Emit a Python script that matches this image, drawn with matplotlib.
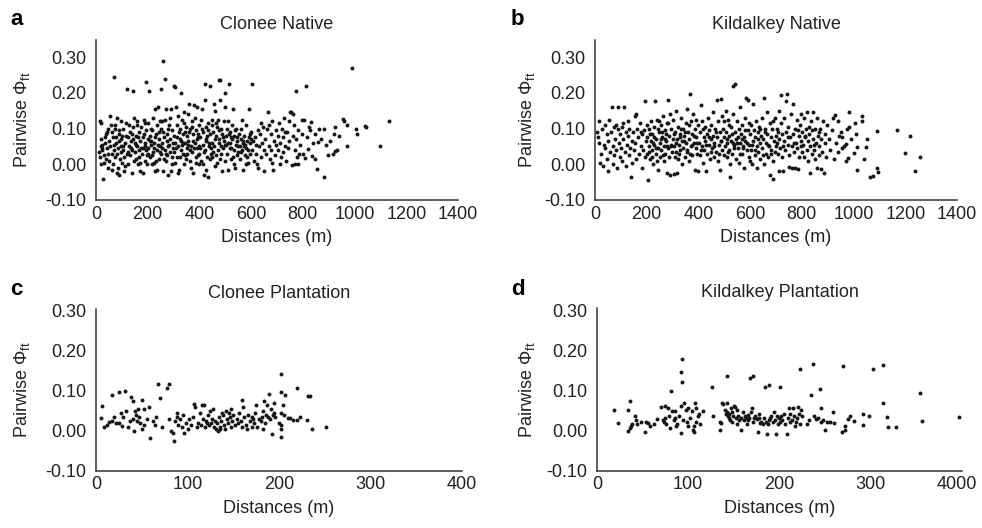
import numpy as np
import matplotlib
matplotlib.use("Agg")
import matplotlib.pyplot as plt
from matplotlib.transforms import ScaledTranslation

plt.rcParams['font.family'] = ['Liberation Sans', 'DejaVu Sans']
plt.rcParams['mathtext.fontset'] = 'custom'
plt.rcParams['mathtext.rm'] = 'Liberation Sans'
plt.rcParams['mathtext.it'] = 'Liberation Sans:italic'
plt.rcParams['axes.unicode_minus'] = False

# pairwise distances (m) and Phi_ft values
clonee_native = [
    (15,0.12),(18,0.115),(20,0.05),(22,0.045),(25,0.04),(15,0.02),(28,-0.04),(20,0.07),(30,0.005),(35,0.06),
    (40,0.085),(45,0.03),(48,0.1),(12,0.035),(25,0.055),(33,0.075),(38,0.015),(42,0.045),(47,-0.01),(50,0.065),
    (30,0.025),(44,0.09),(20,0.0),(55,0.135),(50,0.01),
    (55,0.05),(58,0.11),(60,0.03),(62,-0.015),(65,0.075),(68,0.04),(70,0.245),(72,0.1),(75,0.02),(78,0.06),
    (80,-0.025),(82,0.13),(85,0.045),(88,0.085),(90,-0.03),(92,0.015),(95,0.07),(98,0.035),(60,0.09),(65,0.0),
    (70,0.055),(75,0.11),(80,0.03),(85,-0.01),(90,0.095),(95,0.05),(100,0.005),(88,0.065),(78,0.075),(96,0.12),
    (100,0.08),(103,0.04),(106,0.1),(108,0.02),(110,-0.02),(112,0.06),(115,0.115),(118,0.03),(120,0.21),(122,0.075),
    (125,0.0),(128,0.05),(130,0.09),(132,0.025),(135,0.065),(138,-0.025),(140,0.04),(142,0.105),(145,0.205),(146,0.13),
    (148,0.01),(150,0.06),(105,0.05),(115,0.08),(125,0.035),(135,0.045),(145,0.07),(112,-0.005),(128,0.11),(138,0.085),
    (150,0.035),(153,0.08),(155,0.015),(158,0.12),(160,0.05),(162,0.0),(165,0.09),(168,0.04),(170,0.065),(172,-0.02),
    (175,0.105),(178,0.03),(180,0.075),(182,0.045),(185,0.125),(188,0.01),(190,0.06),(192,0.095),(195,0.23),(197,0.025),
    (200,0.07),(155,0.055),(165,0.02),(175,0.045),(185,0.085),(195,0.04),(160,0.11),(170,0.005),(180,-0.025),(190,0.115),
    (198,0.0),(188,0.05),(163,0.075),
    (200,0.045),(202,0.115),(205,0.205),(207,0.02),(210,0.08),(212,0.055),(215,0.0),(217,0.095),(220,0.035),(222,0.13),
    (225,0.06),(227,-0.02),(230,0.155),(232,0.085),(235,0.04),(237,0.11),(240,0.16),(242,0.015),(245,0.07),(247,0.05),
    (250,0.21),(203,0.03),(213,0.1),(223,0.045),(233,0.01),(243,0.09),(208,0.065),(218,0.025),(228,0.075),(238,0.055),
    (248,0.12),(226,0.005),(236,-0.015),(246,0.035),(214,0.065),
    (250,0.03),(252,0.1),(255,0.06),(258,-0.02),(260,0.29),(262,0.075),(265,0.24),(266,0.04),(268,0.125),(270,0.155),
    (272,0.01),(275,0.085),(278,0.05),(280,-0.03),(282,0.11),(285,0.035),(288,0.07),(290,0.155),(292,0.02),(295,0.095),
    (298,0.045),(300,0.22),(254,0.045),(264,0.015),(274,0.065),(284,0.055),(294,0.0),(259,0.09),(269,0.03),(279,0.1),
    (289,-0.02),(296,0.06),(286,0.13),(276,0.025),(256,0.12),
    (300,0.08),(302,0.035),(305,0.215),(307,0.06),(310,0.16),(312,0.11),(315,0.02),(317,0.05),(320,0.09),(322,-0.015),
    (325,0.07),(327,0.04),(330,0.2),(332,0.125),(335,0.03),(337,0.085),(340,0.145),(342,0.0),(345,0.06),(347,0.105),
    (350,0.045),(304,0.005),(314,0.075),(324,0.1),(334,0.055),(344,0.025),(309,0.045),(319,-0.025),(329,0.065),(339,0.115),
    (349,0.015),(318,0.135),(343,0.09),(326,0.02),(336,0.06),
    (350,0.08),(352,0.03),(355,0.14),(357,0.065),(360,0.17),(362,0.1),(365,0.01),(367,0.05),(370,0.12),(372,0.035),
    (375,0.085),(377,-0.025),(380,0.165),(382,0.06),(385,0.02),(387,0.095),(390,0.16),(392,0.045),(395,0.075),(397,0.0),
    (400,0.11),(354,0.055),(364,0.04),(374,0.065),(384,0.13),(394,0.025),(359,0.09),(369,-0.01),(379,0.045),(389,0.07),
    (399,0.05),(371,0.105),(386,0.005),(396,0.085),
    (400,0.03),(402,0.075),(405,0.125),(407,0.01),(410,0.155),(412,0.055),(415,0.09),(417,-0.03),(420,0.225),(421,0.18),
    (423,0.04),(425,0.105),(427,0.065),(430,0.02),(432,0.115),(435,-0.035),(437,0.05),(440,0.22),(442,0.085),(445,0.03),
    (447,0.125),(450,0.06),(404,0.045),(414,0.0),(424,0.07),(434,0.095),(444,0.045),(409,0.1),(419,0.035),(429,0.08),
    (439,0.015),(449,0.11),(426,-0.015),(436,0.06),
    (450,0.02),(452,0.09),(455,0.17),(457,0.05),(460,0.15),(462,0.07),(465,0.115),(467,0.005),(470,0.04),(472,0.125),
    (475,0.235),(477,0.06),(480,0.235),(481,0.18),(483,0.03),(485,0.1),(487,-0.02),(490,0.075),(492,0.045),(495,0.12),
    (497,0.01),(500,0.2),(454,0.035),(464,0.08),(474,0.095),(484,0.05),(494,0.065),(459,-0.005),(469,0.105),(479,0.015),
    (489,0.085),(499,0.055),(476,0.07),(466,0.025),
    (500,0.16),(502,0.08),(505,0.03),(507,0.1),(510,-0.015),(512,0.06),(515,0.225),(517,0.045),(520,0.09),(522,0.015),
    (525,0.07),(527,0.11),(530,0.155),(532,0.04),(535,0.08),(537,-0.01),(540,0.055),(542,0.1),(545,0.025),(547,0.065),
    (550,0.035),(504,0.055),(514,0.085),(524,0.045),(534,0.0),(544,0.075),(509,0.12),(519,0.06),(529,0.02),(539,0.095),
    (549,0.05),(521,0.075),
    (552,0.085),(555,0.05),(557,0.015),(560,0.07),(562,0.1),(565,0.04),(567,0.06),(570,-0.015),(572,0.08),(575,0.025),
    (577,0.055),(580,0.11),(582,0.045),(585,0.065),(587,0.005),(590,0.155),(592,0.075),(595,0.03),(597,0.06),(600,0.09),
    (559,0.035),(569,0.065),(579,0.0),(589,0.04),(599,0.07),(564,0.125),(574,0.05),(584,0.02),(594,0.085),
    (605,0.225),(603,0.04),(608,0.065),(612,0.01),(615,0.075),(620,0.03),(625,0.095),(628,-0.01),(632,0.05),(635,0.085),
    (640,0.02),(642,0.06),(645,0.105),(648,0.04),(650,-0.02),(618,0.055),(638,0.115),(622,0.0),
    (655,0.07),(658,0.03),(662,0.1),(666,0.145),(668,0.05),(672,0.015),(675,0.085),(678,0.04),(682,0.12),(685,-0.015),
    (688,0.065),(692,0.025),(695,0.095),(698,0.055),(670,0.11),(680,0.005),
    (702,0.08),(705,0.04),(708,0.115),(712,0.06),(715,0.02),(718,0.1),(722,0.035),(725,0.075),(728,0.13),(732,0.05),
    (735,0.01),(738,0.09),(742,0.045),(745,0.12),(748,0.065),(710,0.0),(730,0.09),
    (752,0.147),(755,0.145),(760,0.14),(758,-0.002),(768,0.001),(780,0.001),(762,0.08),(765,0.11),(770,0.04),(772,0.205),
    (775,0.07),(778,0.02),(782,0.095),(786,0.029),(790,0.055),(795,0.085),(798,0.125),(800,0.03),(808,0.017),(803,0.124),
    (811,0.22),(823,0.105),(828,0.097),(833,0.118),(821,0.043),(834,0.024),(847,0.015),(847,0.085),(855,-0.012),(857,0.063),
    (861,0.1),(882,0.098),(882,-0.036),(891,0.054),(898,0.027),(870,0.07),(840,0.06),(815,0.075),
    (904,0.066),(916,0.029),(920,0.084),(924,0.037),(925,0.103),(931,0.04),(940,0.079),(957,0.128),(969,0.109),(969,0.051),
    (991,0.269),(1007,0.1),(1009,0.085),(1041,0.108),(1045,0.105),(1097,0.052),(1133,0.122),(960,0.122),
]

kildalkey_native = [
    (8,0.09),(10,0.075),(17,0.12),(15,0.06),(20,0.005),(25,0.03),(28,0.1),(30,-0.005),(35,0.055),(38,0.11),
    (40,0.045),(45,0.015),(48,0.085),(50,-0.02),(52,0.065),(55,0.125),(58,0.035),(62,0.09),(65,0.16),(68,0.05),
    (70,0.0),(72,0.105),(75,0.025),(78,0.07),(80,0.11),(82,0.04),(85,-0.01),(88,0.16),(90,0.1),(92,0.06),
    (95,0.02),(98,0.085),
    (100,0.045),(103,0.105),(106,0.01),(110,0.07),(112,0.16),(115,0.035),(118,0.09),(120,-0.005),(123,0.055),(126,0.08),
    (130,0.025),(133,0.1),(136,0.045),(140,-0.036),(142,0.065),(145,0.005),(148,0.09),(150,0.04),(153,0.135),(156,0.06),
    (160,0.015),(163,0.1),(166,0.075),(170,0.03),(173,0.115),(176,0.05),(180,-0.01),(183,0.085),(186,0.04),(190,0.095),
    (193,0.02),(195,0.176),(197,0.065),(200,0.11),(108,0.115),(128,0.12),(158,0.14),(178,0.09),
    (200,0.03),(202,0.075),(205,-0.045),(207,0.05),(210,0.1),(212,0.015),(215,0.065),(217,0.12),(220,0.04),(222,0.085),
    (225,0.0),(227,0.055),(230,0.105),(233,0.176),(235,0.03),(237,0.07),(240,0.125),(242,0.045),(245,-0.015),(247,0.09),
    (250,0.06),(252,0.02),(255,0.11),(257,0.04),(260,0.075),(262,0.135),(265,0.01),(267,0.05),(270,0.095),(272,0.03),
    (275,0.065),(277,-0.025),(280,0.115),(281,0.18),(283,0.045),(285,0.08),(288,0.02),(289,-0.03),(290,0.14),(292,0.055),
    (295,0.1),(297,0.035),(300,0.07),(214,0.085),(224,0.06),(234,0.045),(244,0.1),(254,0.07),(264,0.025),(274,0.085),
    (284,0.115),(294,0.05),(209,0.035),(219,0.02),(229,0.075),(239,0.01),(249,0.12),(259,0.09),(269,0.07),(279,0.05),
    (302,0.125),(305,0.05),(307,-0.027),(310,0.09),(312,0.035),(315,0.15),(317,0.07),(319,-0.025),(320,0.015),(322,0.105),
    (325,0.055),(327,0.085),(330,0.04),(332,0.13),(335,0.065),(337,0.0),(340,0.1),(342,0.045),(345,0.08),(347,0.02),
    (350,0.115),(352,0.06),(355,0.155),(357,0.035),(360,0.09),(362,0.07),(365,0.01),(367,0.197),(370,0.05),(372,0.12),
    (375,0.085),(377,0.025),(380,0.14),(382,0.06),(385,-0.015),(387,0.1),(390,0.045),(392,0.075),(395,0.03),(397,0.11),
    (400,-0.02),(304,0.085),(314,0.06),(324,0.03),(334,0.1),(344,0.065),(354,0.04),(364,0.11),(374,0.055),(384,0.08),
    (394,0.06),(309,0.02),(329,0.075),(349,0.09),(369,0.03),(389,0.125),
    (402,0.06),(405,0.09),(407,0.025),(410,0.165),(412,0.05),(415,0.12),(417,0.005),(420,0.075),(422,0.04),(425,0.105),
    (427,0.065),(430,-0.02),(432,0.085),(435,0.03),(437,0.13),(440,0.055),(442,0.095),(445,0.015),(447,0.07),(450,0.11),
    (452,0.045),(455,0.145),(457,0.08),(460,0.02),(462,0.06),(465,0.1),(467,0.035),(470,0.18),(472,0.075),(475,0.01),
    (477,0.12),(480,0.055),(482,0.09),(485,-0.015),(487,0.065),(488,0.184),(490,0.135),(492,0.04),(495,0.1),(497,0.025),
    (500,0.075),(409,0.04),(419,0.1),(429,0.055),(439,0.075),(449,0.035),(459,0.05),(469,0.09),(479,0.03),(489,0.065),
    (499,0.12),
    (502,0.05),(505,0.15),(507,0.09),(510,0.02),(512,0.06),(515,0.125),(517,0.04),(520,0.08),(522,0.0),(523,-0.035),
    (525,0.105),(527,0.065),(530,0.03),(532,0.14),(535,0.22),(537,0.055),(540,0.224),(542,0.09),(545,0.015),(547,0.07),
    (550,0.12),(552,0.045),(555,0.1),(557,0.005),(560,0.16),(562,0.06),(565,0.085),(567,0.03),(570,0.11),(572,0.05),
    (575,0.075),(577,-0.01),(580,0.13),(582,0.065),(585,0.185),(587,0.04),(590,0.18),(592,0.095),(595,0.02),(597,0.055),
    (600,0.085),(509,0.07),(519,0.11),(529,0.085),(539,0.045),(549,0.06),(559,0.03),(569,0.07),(579,0.095),(589,0.06),
    (599,0.01),(514,0.035),(534,0.06),(554,0.075),(574,0.045),(594,0.115),
    (602,0.04),(605,0.11),(607,0.0),(610,0.17),(612,0.065),(615,0.095),(617,0.025),(620,0.075),(622,0.12),(625,0.05),
    (627,-0.01),(630,0.09),(632,0.035),(635,0.105),(637,0.06),(640,0.015),(642,0.08),(645,0.13),(647,0.045),(650,0.07),
    (652,0.0),(655,0.185),(657,0.1),(660,0.03),(662,0.06),(665,0.145),(667,0.085),(670,0.02),(672,0.05),(675,0.115),
    (677,-0.03),(680,0.075),(682,0.04),(685,0.1),(687,0.01),(690,-0.04),(692,0.065),(695,0.13),(697,0.035),(700,0.08),
    (609,0.055),(619,0.04),(629,0.07),(639,0.1),(649,0.025),(659,0.09),(669,0.055),(679,0.03),(689,0.12),(699,0.05),
    (702,0.06),(705,0.1),(707,0.03),(710,0.15),(712,0.07),(713,-0.019),(715,0.045),(718,0.115),(720,0.195),(722,0.085),
    (725,0.02),(728,-0.019),(730,0.065),(732,0.13),(735,0.04),(737,0.09),(739,0.177),(742,0.197),(745,0.055),(747,0.105),
    (750,0.025),(752,-0.007),(755,0.075),(757,0.14),(760,0.05),(762,-0.009),(765,0.169),(767,0.085),(770,0.035),(773,-0.009),
    (775,0.1),(777,0.06),(780,0.125),(782,0.045),(786,-0.012),(788,0.08),(790,0.02),(792,0.11),(795,0.065),(798,0.14),
    (800,0.035),(708,0.09),(727,0.05),(748,0.075),(768,0.06),(785,0.095),(796,0.05),
    (802,0.09),(805,0.055),(808,0.13),(810,0.02),(812,0.075),(815,0.1),(818,0.04),(820,0.145),(822,0.065),(825,0.01),
    (828,0.085),(831,-0.024),(833,0.05),(835,0.12),(838,0.03),(840,0.095),(842,0.07),(845,0.145),(847,0.04),(850,0.015),
    (852,0.1),(855,0.06),(858,0.13),(860,-0.01),(862,0.08),(865,0.025),(868,0.05),(870,0.1),(873,-0.012),(875,0.07),
    (878,0.035),(880,0.12),(885,-0.024),(888,0.06),(890,0.085),(895,0.02),(898,0.11),(814,0.08),(826,0.105),(848,0.055),
    (866,0.09),
    (905,0.07),(910,0.04),(915,0.095),(920,0.13),(927,0.138),(932,0.06),(940,0.035),(941,0.121),(945,0.08),(950,0.09),
    (957,0.075),(962,0.05),(969,0.009),(969,0.056),(975,0.1),(980,0.019),(983,0.103),(983,0.146),(990,0.07),(1002,0.033),
    (1007,0.116),(1010,0.086),(1014,0.049),(1015,-0.015),(1031,0.136),(1034,0.122),(1040,0.016),(1047,0.049),(1053,0.07),
    (1065,-0.036),(1075,-0.033),(1090,-0.01),(1095,-0.022),(1091,0.093),(1168,0.096),(1200,0.032),(1217,0.08),
    (1239,-0.018),(1257,0.021),(925,0.015),(955,0.045),
]

clonee_plantation = [
    (7,0.062),(6,0.031),(9,0.008),(12,0.015),(14,0.022),(17,0.09),(18,0.025),(20,0.035),(22,0.018),(25,0.096),
    (25,0.02),(27,0.045),(28,0.012),(30,0.035),(32,0.099),(33,0.048),(35,0.01),(37,0.025),(38,0.085),(40,0.075),
    (40,0.03),(42,0.0),(43,0.05),(44,0.04),(45,0.025),(46,0.055),(47,0.035),(48,0.02),(50,0.078),(50,0.005),
    (52,0.015),(53,0.055),(56,0.03),(58,0.06),(59,-0.018),(62,0.025),(64,0.015),(66,0.035),(68,0.116),(70,0.082),
    (72,0.01),(78,0.108),(80,0.118),(80,0.03),(82,0.0),(84,-0.005),(85,-0.027),(86,0.025),(88,0.045),(89,0.035),
    (90,0.015),(92,0.03),(94,0.01),(95,0.04),(96,-0.005),(98,0.02),(100,0.005),(102,0.03),(104,0.015),(106,0.035),
    (107,0.068),(108,0.06),(110,0.01),(112,0.02),(114,0.045),(115,0.015),(116,0.065),(117,0.03),(118,0.065),(119,0.01),
    (120,0.025),(121,0.02),(122,0.04),(124,0.015),(125,0.05),(126,0.02),(127,0.03),(128,0.055),(129,0.01),(130,0.025),
    (131,0.005),(132,0.02),(133,0.0),(134,0.035),(135,0.01),(136,0.005),(137,0.025),(138,0.045),(139,0.04),(140,0.015),
    (141,0.005),(142,0.05),(143,0.03),(144,0.02),(145,0.045),(146,0.035),(147,0.01),(148,0.055),(149,0.025),(150,0.04),
    (152,0.015),(154,0.03),(155,0.02),(156,0.045),(158,0.025),(160,0.078),(160,0.01),(161,0.06),(162,0.035),(164,0.015),
    (165,0.005),(166,0.04),(168,0.025),(170,0.035),(171,0.01),(172,0.03),(173,0.02),(174,0.045),(175,0.065),(176,0.01),
    (178,0.03),(180,0.025),(181,0.035),(182,0.005),(183,0.05),(184,0.075),(185,0.02),(186,0.04),(187,0.065),(188,0.035),
    (189,0.091),(190,0.03),(191,0.055),(192,-0.008),(193,0.04),(194,0.07),(195,0.045),(196,0.035),(200,0.02),
    (202,0.143),(202,0.096),(202,0.044),(202,0.015),(202,0.003),(202,-0.015),(204,0.065),(205,0.038),(207,0.09),(210,0.032),
    (212,0.031),(215,0.027),(220,0.027),(223,0.034),(220,0.108),(231,0.027),(232,0.086),(234,0.086),(236,0.003),(251,0.008),
]

kildalkey_plantation = [
    (19,0.05),(22.5,0.019),(34,0.05),(36,0.072),(34.5,-0.001),(36,0.005),(37,0.01),(38,0.015),(42,0.037),(43,0.027),
    (44,0.016),(48,0.02),(53,-0.004),(54,0.02),(56,0.018),(58,0.012),(62,0.015),(66,0.028),(70,0.058),(72,0.025),
    (73,0.02),(74,0.03),(75,0.06),(76,0.015),(78,0.055),(79,0.035),(80,0.005),(82,0.048),(84,0.025),(85,0.03),
    (86,0.048),(87,0.01),(88,0.015),(81.4,0.097),(90,0.035),(92,0.145),(93.4,0.178),(93.4,0.12),(92,0.06),(92,-0.006),
    (94,0.025),(95,0.068),(97,0.05),(99,0.02),(100,0.01),(100,0.055),(102,0.03),(104,0.048),(105,0.002),(106,-0.004),
    (106,0.01),(107,0.068),(108,0.02),(109,0.055),(111,0.035),(112,0.042),(113,0.015),(116,0.048),(126,0.108),(127,0.035),
    (135,0.0),(135,0.02),(136,0.018),(137,0.068),(138,0.065),(140,0.05),(141,0.04),(142,0.135),(142,0.068),(143,0.045),
    (144,0.035),(145,0.04),(145,0.03),(146,0.025),(147,0.055),(148,0.045),(148,0.02),(149,0.035),(150,0.06),(151,0.058),
    (152,0.03),(153,0.05),(153,0.015),(155,0.035),(156,0.025),(158,0.0),(158,0.03),(160,0.045),(161,0.025),(162,0.035),
    (163,0.03),(164,0.015),(165,0.038),(166,0.025),(167,0.03),(168,0.13),(169,0.045),(170,0.055),(171,0.136),(171,0.02),
    (172,0.03),(173,0.035),(175,0.028),(176,-0.003),(177,0.03),(178,0.04),(179,0.018),(180,0.022),(182,0.015),(183,0.03),
    (184,0.108),(185,0.02),(186,-0.008),(187,0.015),(188,0.025),(189,0.113),(190,0.03),(191,0.035),(193,0.02),(194,0.045),
    (195,0.025),(196,-0.008),(197,0.035),(198,0.015),(199,0.03),(200,0.109),(200,0.02),(202,0.035),(203,0.025),(205,0.04),
    (206,0.015),(208,-0.01),(209,0.03),(210,0.055),(211,0.02),(212,0.04),(214,0.025),(215,0.055),(216,0.035),(217,0.01),
    (218,0.02),(219,0.03),(220,0.058),(221,0.04),(222,0.153),(223,0.015),(224,0.05),(225,0.035),(230,0.015),(232,0.025),
    (234,0.087),(237,0.165),(238,0.035),(240,0.028),(242,0.03),(244,0.103),(245,0.055),(246,0.02),(248,0.025),(250,0.0),
    (252,0.022),(255,0.02),(259,0.047),(260,0.019),(268,-0.004),(270,0.161),(272,0.0),(272,0.012),(275,0.029),(277,0.036),
    (282,0.023),(292,0.041),(292,0.013),(298,0.035),(303,0.153),(313,0.163),(313,0.068),(318,0.034),(319,0.009),(328,0.009),
    (354,0.092),(356,0.024),(397,0.034),
]

titles = ['Clonee Native', 'Kildalkey Native', 'Clonee Plantation', 'Kildalkey Plantation']
letters = ['a', 'b', 'c', 'd']
yticks = [-0.10, 0.00, 0.10, 0.20, 0.30]
xticks_native = [0, 200, 400, 600, 800, 1000, 1200, 1400]
xticks_plant = [0, 100, 200, 300, 400]
xticklabels_d = ['0', '100', '200', '300', '4000']

fig = plt.figure(figsize=(9.82, 5.28), dpi=100)

# axes boxes in pixel coords (left, right, top, bottom)
boxes = [(96, 458, 40, 200), (595, 957, 40, 200), (96, 462, 309, 470.5), (597, 962, 308, 470.5)]
ylims = [(-0.1, 0.348), (-0.1, 0.348), (-0.1, 0.305), (-0.1, 0.305)]
data = [clonee_native, kildalkey_native, clonee_plantation, kildalkey_plantation]
letter_pos = [(10, 25), (511, 25), (10, 295), (511, 295)]
ylab_x = [32, 537, 32, 537]

W, H = 982, 528
for i in range(4):
    l, r, t, b = boxes[i]
    ax = fig.add_axes([l / W, 1 - b / H, (r - l) / W, (b - t) / H])
    pts = np.array(data[i])
    ax.scatter(pts[:, 0], pts[:, 1], s=8, marker='o', color='#161616', linewidths=0)

    if i < 2:
        ax.set_xlim(0, 1400)
        ax.set_xticks(xticks_native)
        ax.set_xticklabels([str(v) for v in xticks_native])
    else:
        ax.set_xlim(0, 400)
        ax.set_xticks(xticks_plant)
        if i == 3:
            ax.set_xticklabels(xticklabels_d)
        else:
            ax.set_xticklabels([str(v) for v in xticks_plant])
    ax.set_ylim(*ylims[i])
    ax.set_yticks(yticks)
    ax.set_yticklabels([f'{v:.2f}' for v in yticks])

    for s in ['top', 'right']:
        ax.spines[s].set_visible(False)
    for s in ['left', 'bottom']:
        ax.spines[s].set_color('#333333')
        ax.spines[s].set_linewidth(1.1)
    ax.tick_params(length=0, labelsize=13, colors='#222222')
    ax.tick_params(axis='y', pad=7)
    ax.tick_params(axis='x', pad=4)

    if i == 3:
        # keep the last label inside the figure edge
        lab = ax.get_xticklabels()[-1]
        lab.set_transform(lab.get_transform() + ScaledTranslation(-4 / 72, 0, fig.dpi_scale_trans))

    ax.set_title(titles[i], fontsize=13, pad=8, color='#222222')
    ax.set_xlabel('Distances (m)', fontsize=13, labelpad=5, color='#222222')
    ax.set_ylabel('Pairwise Φ$_{\\mathrm{ft}}$', fontsize=13, color='#222222')
    ax.yaxis.set_label_coords((ylab_x[i] - l) / (r - l), 0.5)

    lx, ly = letter_pos[i]
    fig.text(lx / W, 1 - ly / H, letters[i], fontsize=16, fontweight='bold', va='baseline', ha='left')

fig.savefig('out.png', dpi=100)
